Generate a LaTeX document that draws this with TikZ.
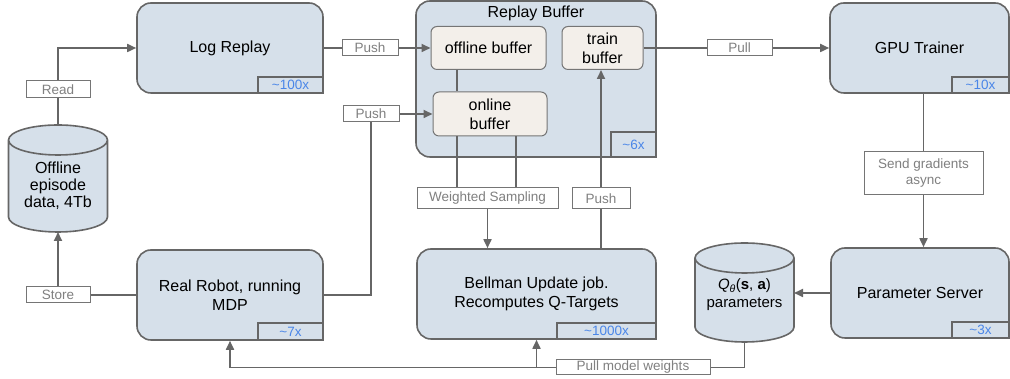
\documentclass[tikz,border=0pt]{standalone}
\usepackage{fontspec}
\setmainfont{Liberation Sans}
\usetikzlibrary{arrows.meta,calc,backgrounds}

\definecolor{boxfill}{HTML}{D6E0EA}
\definecolor{boxline}{HTML}{666666}
\definecolor{buffill}{HTML}{F3EFEA}
\definecolor{tagtext}{HTML}{808080}
\definecolor{ratetext}{HTML}{4A86E8}

\tikzset{
  stage/.style={draw=boxline, fill=boxfill, line width=1.6pt, rounded corners=14pt, align=center, inner sep=0pt, font=\fontsize{16}{19}\selectfont},
  bufbox/.style={draw=boxline!90, fill=buffill, line width=1pt, rounded corners=6pt, align=center, inner sep=0pt, font=\fontsize{16}{19}\selectfont},
  tag/.style={draw=boxline!90, fill=white, line width=1pt, text=tagtext, align=center, inner sep=0pt, font=\fontsize{13.5}{16}\selectfont},
  rate/.style={draw=boxline, fill=boxfill, line width=1.6pt, text=ratetext, inner sep=0pt, anchor=south east, minimum height=16pt, font=\fontsize{13.5}{15}\selectfont},
  drum/.style={minimum width=99pt, align=center, inner sep=0pt, outer sep=0pt},
  link/.style={draw=boxline, line width=1.7pt},
  >={Triangle[length=9pt,width=8pt]}
}

% cylinder drawn round a node: top ellipse centred on its north side
\newcommand{\drumshape}[1]{%
  \path[draw=boxline, fill=boxfill, line width=1.6pt] let \p1=(#1.north west), \p2=(#1.south east) in
    (\x1,\y1) -- (\x1,\y2+15pt) arc[start angle=180, end angle=360, x radius={(\x2-\x1)/2}, y radius=15pt]
    -- (\x2,\y1) arc[start angle=0, end angle=180, x radius={(\x2-\x1)/2}, y radius=15pt] -- cycle
    (\x1,\y1) arc[start angle=180, end angle=360, x radius={(\x2-\x1)/2}, y radius=15pt];}

\begin{document}
\begin{tikzpicture}[x=1pt, y=1pt]
\useasboundingbox (0,0) rectangle (1010,379);

\node[stage, minimum width=186pt, minimum height=90pt] (logrep) at (230,331) {Log Replay};
\node[stage, minimum width=186pt, minimum height=90pt] (robot) at (230,84) {Real Robot, running\\MDP};
\node[stage, minimum width=240pt, minimum height=156pt] (replay) at (536,300) {};
\node[font=\fontsize{16}{19}\selectfont] (replaytitle) at (536,366) {Replay Buffer};
\node[stage, minimum width=239pt, minimum height=90pt] (bellman) at (536.5,85) {Bellman Update job.\\Recomputes Q-Targets};
\node[stage, minimum width=179pt, minimum height=90pt] (gpu) at (919.5,331) {GPU Trainer};
\node[stage, minimum width=178pt, minimum height=90pt] (paramsrv) at (920,86) {Parameter Server};

\node[bufbox, minimum width=115pt, minimum height=43pt] (offbuf) at (488.5,331) {offline buffer};
\node[bufbox, minimum width=114pt, minimum height=44pt] (onbuf) at (490,265) {online\\buffer};
\node[bufbox, minimum width=81pt, minimum height=43pt] (trainbuf) at (602.5,331) {train\\buffer};

\node[rate, minimum width=65pt] (logrep-n) at (logrep.south east) {\textasciitilde100x};
\node[rate, minimum width=65pt, minimum height=17pt] (robot-n) at (robot.south east) {\textasciitilde7x};
\node[rate, minimum width=45pt, minimum height=25pt] (replay-n) at (replay.south east) {\textasciitilde6x};
\node[rate, minimum width=99pt] (bellman-n) at (bellman.south east) {\textasciitilde1000x};
\node[rate, minimum width=57pt] (gpu-n) at (gpu.south east) {\textasciitilde10x};
\node[rate, minimum width=57pt] (paramsrv-n) at (paramsrv.south east) {\textasciitilde3x};

\node[drum, minimum height=92pt, font=\fontsize{16}{17}\selectfont] (offdata) at (58,193) {Offline\\episode\\data, 4Tb};
\node[drum, minimum height=84pt, text height=18pt, font=\fontsize{15}{18}\selectfont] (qparams) at (744.5,79) {\textit{Q}\textsubscript{\textit{θ}}(\textbf{s}, \textbf{a})\\parameters};
\begin{scope}[on background layer]
\drumshape{offdata}
\drumshape{qparams}
\end{scope}

\node[tag, minimum width=64pt, minimum height=17pt] (read) at (58,289.5) {Read};
\node[tag, minimum width=64pt, minimum height=16pt] (store) at (58,84) {Store};
\node[tag, minimum width=56pt, minimum height=16pt] (push1) at (370,331) {Push};
\node[tag, minimum width=56pt, minimum height=16pt] (push2) at (371,265) {Push};
\node[tag, minimum width=141pt, minimum height=21pt] (wsamp) at (487.5,180.5) {Weighted Sampling};
\node[tag, minimum width=58pt, minimum height=21pt] (push3) at (601,180.5) {Push};
\node[tag, minimum width=65pt, minimum height=16pt] (pull) at (739.5,331) {Pull};
\node[tag, minimum width=119pt, minimum height=43pt] (sendgrad) at (923.5,205.5) {Send gradients\\async};
\node[tag, minimum width=154pt, minimum height=15pt] (pullw) at (633,11.5) {Pull model weights};

\coordinate (ws1) at (457,0);
\coordinate (ws2) at (516,0);

\draw[link,->] ([yshift=15pt]offdata.north) -- (read) |- (logrep);
\draw[link,->] (robot) -- (store) -- (offdata.south);
\draw[link,->] (logrep) -- (push1) -- (offbuf);
\draw[link,->] (robot) -| (push2) -- (onbuf);
\draw[link,->] (trainbuf) -- (pull) -- (gpu);
\draw[link,->] (gpu.south -| sendgrad) -- (sendgrad) -- (sendgrad |- paramsrv.north);
\draw[link,->] (paramsrv.west) -- (paramsrv.west -| qparams.east);

\draw[link] (offbuf.south -| ws1) -- (onbuf.north -| ws1);
\draw[link] (onbuf.south -| ws1) -- (wsamp.north -| ws1);
\draw[link] (onbuf.south -| ws2) -- (wsamp.north -| ws2);
\draw[link,->] (wsamp) -- (wsamp |- bellman.north);
\draw[link,->] (bellman.north -| push3) -- (push3) -- (push3 |- trainbuf.south);

\draw[link] (qparams.south) |- (pullw);
\draw[link,->] (pullw) -| (robot.south);
\draw[link,->] (bellman.south |- pullw) -- (bellman.south);

\end{tikzpicture}
\end{document}
